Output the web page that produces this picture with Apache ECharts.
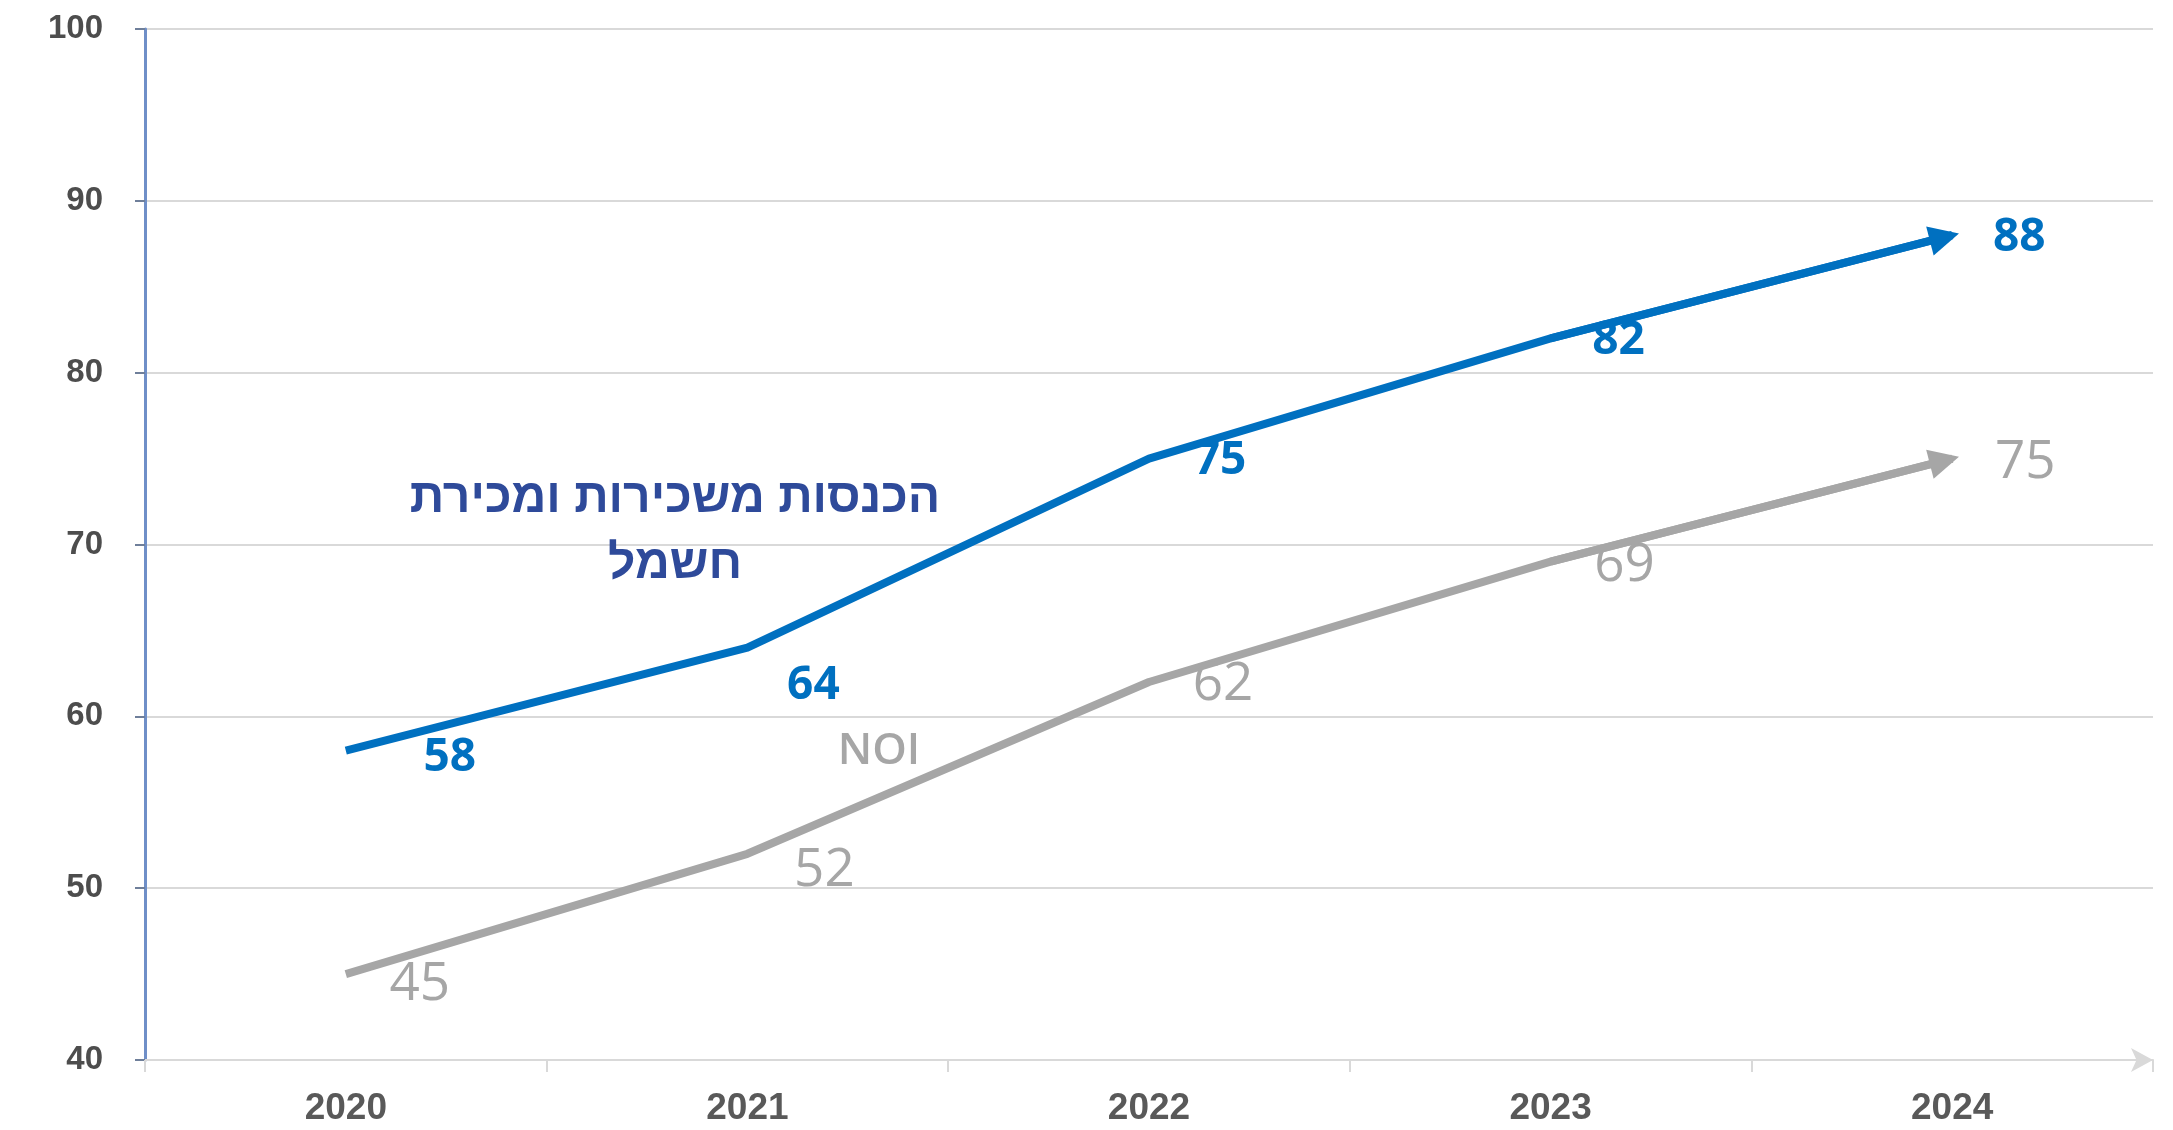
<!DOCTYPE html>
<html>
<head>
<meta charset="utf-8">
<script src="https://cdn.jsdelivr.net/npm/echarts@6/dist/echarts.min.js"></script>
<style>
  html, body { margin: 0; padding: 0; background: #ffffff; }
  #chart { width: 2173px; height: 1130px; }
</style>
</head>
<body>
<div id="chart"></div>
<script>
// Years on the category axis
const years = ['2020', '2021', '2022', '2023', '2024'];
// Revenue from leasing and electricity sales
const revenue = [58, 64, 75, 82, 88];
// NOI
const noi = [45, 52, 62, 69, 75];
// Value axis range and step
const yMin = 40;
const yMax = 100;
const yStep = 10;

// Pixel nudges for each value label, relative to its point
const revenueLabelShift = [[104, 7], [66, 38], [71, 2], [68, 3], [67, 3]];
const noiLabelShift = [[74, 11], [77, 17], [74, 3], [74, 4], [73, 4]];

const BLUE = '#0070C0';
const GREY = '#A6A6A6';

function trendSeries(name, values, shifts, color, labelStyle) {
  const n = values.length;
  return {
    type: 'line',
    name: name,
    data: values.map((v, i) => ({ value: v, label: { offset: shifts[i] } })),
    symbol: 'circle',
    symbolSize: 2,
    showSymbol: true,
    itemStyle: { color: 'rgba(0,0,0,0)' },
    lineStyle: { color: color, width: 8, cap: 'butt', join: 'round' },
    label: Object.assign({
      show: true,
      position: 'inside',
      align: 'center',
      verticalAlign: 'middle',
      color: color
    }, labelStyle),
    emphasis: { disabled: true },
    // arrowhead on the final segment
    markLine: {
      silent: true,
      animation: false,
      symbol: ['none', 'triangle'],
      symbolSize: [30, 30],
      symbolOffset: [[0, 0], [0, 8]],
      label: { show: false },
      emphasis: { disabled: true },
      lineStyle: { color: color, width: 8, type: 'solid', opacity: 1 },
      data: [[
        { coord: [years[n - 2], values[n - 2]] },
        { coord: [years[n - 1], values[n - 1]] }
      ]]
    }
  };
}

const chart = echarts.init(document.getElementById('chart'), null, { renderer: 'canvas' });

chart.setOption({
  animation: false,
  backgroundColor: '#ffffff',
  grid: {
    left: 145,
    right: 20,
    top: 29,
    bottom: 70,
    containLabel: false,
    outerBoundsMode: 'none'
  },
  xAxis: {
    type: 'category',
    data: years,
    boundaryGap: true,
    axisLine: {
      show: true,
      symbol: ['none', 'arrow'],
      symbolSize: [18, 22],
      lineStyle: { color: '#D9D9D9', width: 2 }
    },
    axisTick: {
      show: true,
      length: 12,
      lineStyle: { color: '#D9D9D9', width: 2 }
    },
    axisLabel: {
      color: '#595959',
      fontFamily: 'Liberation Sans',
      fontWeight: 'bold',
      fontSize: 37,
      margin: 30
    },
    splitLine: { show: false }
  },
  yAxis: {
    type: 'value',
    min: yMin,
    max: yMax,
    interval: yStep,
    axisLine: {
      show: true,
      lineStyle: { color: '#6F8FC8', width: 3 }
    },
    axisTick: {
      show: true,
      length: 10,
      lineStyle: { color: '#6F7F9A', width: 2 }
    },
    axisLabel: {
      color: '#4D4D4D',
      fontFamily: 'Liberation Sans',
      fontWeight: 'bold',
      fontSize: 33,
      margin: 42
    },
    splitLine: {
      show: true,
      lineStyle: { color: '#D9D9D9', width: 2 }
    }
  },
  series: [
    trendSeries('NOI', noi, noiLabelShift, GREY,
      { fontFamily: 'Open Sans', fontWeight: 'normal', fontSize: 53 }),
    trendSeries('הכנסות משכירות ומכירת חשמל', revenue, revenueLabelShift, BLUE,
      { fontFamily: 'Open Sans', fontWeight: 'bold', fontSize: 46 })
  ],
  graphic: [
    {
      type: 'text',
      x: 675,
      y: 499,
      z: 10,
      style: {
        text: 'הכנסות משכירות ומכירת',
        fill: '#2E4A9A',
        font: 'bold 48px "Liberation Sans", "DejaVu Sans", sans-serif',
        textAlign: 'center',
        textVerticalAlign: 'middle'
      }
    },
    {
      type: 'text',
      x: 675,
      y: 565,
      z: 10,
      style: {
        text: 'חשמל',
        fill: '#2E4A9A',
        font: 'bold 48px "Liberation Sans", "DejaVu Sans", sans-serif',
        textAlign: 'center',
        textVerticalAlign: 'middle'
      }
    },
    {
      type: 'text',
      x: 879,
      y: 751,
      z: 10,
      style: {
        text: 'NOI',
        fill: GREY,
        font: '600 44px "Open Sans", sans-serif',
        textAlign: 'center',
        textVerticalAlign: 'middle'
      }
    }
  ]
});
</script>
</body>
</html>
